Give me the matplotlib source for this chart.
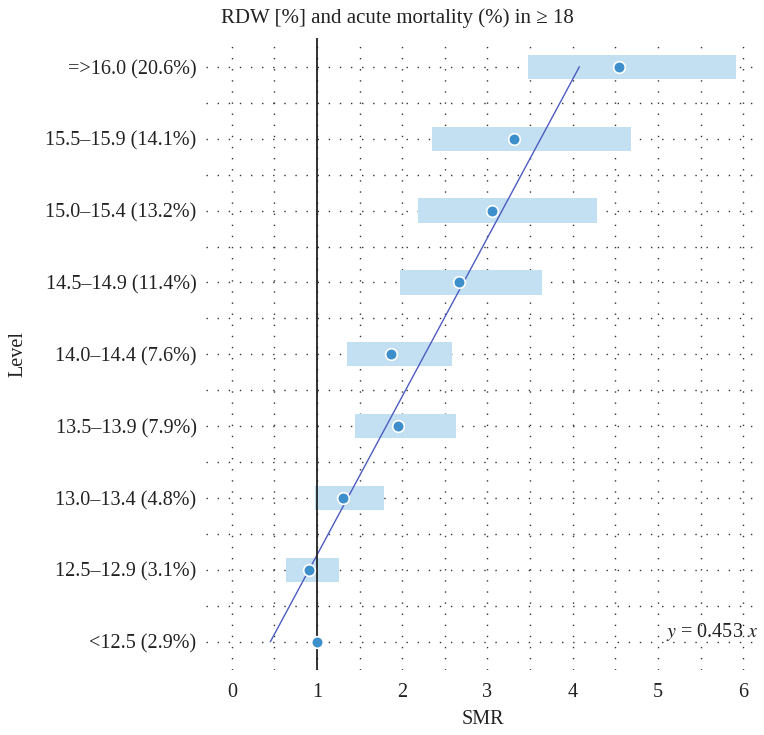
import matplotlib.pyplot as plt
import numpy as np

plt.rcParams['font.family'] = ['Liberation Serif', 'DejaVu Serif']
plt.rcParams['mathtext.fontset'] = 'stix'

levels = ['<12.5 (2.9%)', '12.5–12.9 (3.1%)', '13.0–13.4 (4.8%)', '13.5–13.9 (7.9%)',
          '14.0–14.4 (7.6%)', '14.5–14.9 (11.4%)', '15.0–15.4 (13.2%)',
          '15.5–15.9 (14.1%)', '=>16.0 (20.6%)']
smr = [1.0, 0.90, 1.31, 1.95, 1.87, 2.66, 3.05, 3.31, 4.54]
ci_low = [np.nan, 0.63, 0.97, 1.44, 1.35, 1.97, 2.18, 2.35, 3.47]
ci_high = [np.nan, 1.26, 1.78, 2.63, 2.58, 3.64, 4.28, 4.68, 5.92]
slope = 0.453

y = np.arange(len(levels))
low = np.array(ci_low)
high = np.array(ci_high)

fig = plt.figure(figsize=(7.64, 7.35), dpi=100)
ax = fig.add_axes([0.270, 0.088, 0.725, 0.860])

ax.barh(y, high - low, left=low, height=0.34, color='#c2e0f2', zorder=2)
fit_x = slope * (y + 1)
ax.plot(fit_x, y, color='#4c5cc0', lw=1.0, zorder=3)
ax.axvline(1, color='#222222', lw=1.3, zorder=3)
ax.scatter(smr, y, s=70, color='#3d8fcc', edgecolor='white', linewidth=1.2, zorder=4)

ax.set_xticks(range(7))
ax.set_xticks(np.arange(0.5, 6.5, 1.0), minor=True)
ax.set_yticks(y)
ax.set_yticks(y[:-1] + 0.5, minor=True)
ax.set_yticklabels(levels)
ax.set_xlim(-0.3, 6.2)
ax.set_ylim(-0.4, 8.4)
ax.grid(True, which='both', color='#333333', lw=1.0, ls=(0, (1, 7)), zorder=1)
ax.tick_params(which='both', length=0, labelsize=14.5, colors='#222222')
ax.tick_params(axis='x', pad=9)
ax.tick_params(axis='y', pad=7)
for s in ax.spines.values():
    s.set_visible(False)

ax.set_xlabel('SMR', fontsize=14.5, color='#222222')
ax.xaxis.set_label_coords(0.5, -0.063)
ax.set_ylabel('Level', fontsize=14.5, color='#222222')
ax.yaxis.set_label_coords(-0.322, 0.5)
ax.text(6.18, 0.13, r'$y$ = 0.453 $x$', ha='right', va='center', fontsize=14.5, color='#222222')
fig.text(0.52, 0.976, 'RDW [%] and acute mortality (%) in ≥ 18', ha='center', va='center',
         fontsize=15, color='#222222')

fig.savefig('out.png')
